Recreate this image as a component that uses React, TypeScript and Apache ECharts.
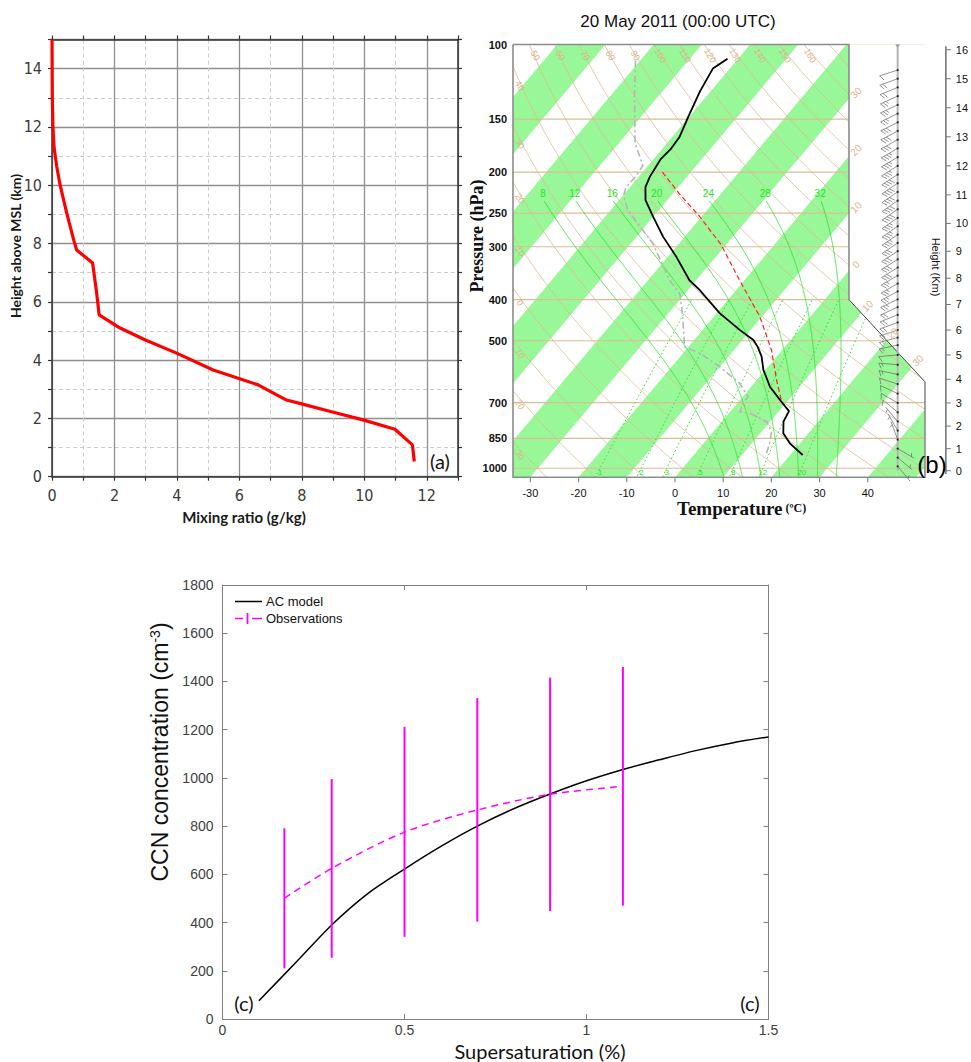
import React, { useEffect, useRef } from "react";
import * as echarts from "echarts";

// ================= Panel (a): mixing ratio profile =================
const mixingRatioGkg = [11.6, 11.54, 10.98, 9.96, 8.95, 7.99, 7.51, 6.6, 5.16, 3.99, 2.99, 2.18, 1.51, 1.43, 1.3, 0.79, 0.7, 0.47, 0.26, 0.15, 0.065, 0.03, 0.01, 0];
const heightAboveMslKm = [0.52, 1.09, 1.63, 1.95, 2.23, 2.5, 2.63, 3.15, 3.66, 4.24, 4.69, 5.1, 5.55, 6.3, 7.33, 7.78, 8.1, 9.05, 10.0, 10.65, 11.3, 12.0, 13.0, 15.0];

// ================= Panel (b): skew-T sounding =================
const soundingPressureHpa = [108, 114, 129, 148, 165, 176, 187, 205, 217, 233, 255, 284, 317, 360, 380, 431, 472, 498, 517, 545, 586, 642, 690, 733, 776, 827, 873, 930];
const soundingTempC = [-62.2, -63.5, -62.2, -60.2, -58.5, -58.2, -58.5, -57.7, -56.8, -54.5, -50.0, -44.5, -38.2, -31.4, -27.5, -19.3, -12.2, -7.7, -5.6, -3.1, -0.4, 3.9, 8.3, 12.1, 12.8, 14.8, 17.9, 22.6];
const dewPressureHpa = [109, 133, 171, 193, 203, 217, 227, 246, 269, 295, 328, 360, 388, 419, 472, 517, 535, 576, 630, 678, 703, 735, 742, 776, 820, 873, 922];
const dewPointC = [-81.0, -74.8, -66.6, -61.1, -60.7, -60.8, -59.9, -56.4, -51.0, -45.4, -40.1, -35.5, -31.0, -28.1, -23.9, -20.8, -16.5, -10.0, -3.0, 1.1, 1.2, 2.0, 4.4, 9.3, 12.1, 13.7, 14.8];
const parcelPressureHpa = [200, 225, 255, 297, 360, 439, 526, 619, 696];
const parcelTempC = [-55.9, -48.6, -40.3, -31.0, -21.0, -10.4, -2.2, 4.1, 8.9];

const pressureTickLabels = [100, 150, 200, 250, 300, 400, 500, 700, 850, 1000];
const temperatureTickLabels = [-30, -20, -10, 0, 10, 20, 30, 40];
const heightTickLabelsKm = [0, 1, 2, 3, 4, 5, 6, 7, 8, 9, 10, 11, 12, 13, 14, 15, 16];
const dryAdiabatThetaC = [-30, -20, -10, 0, 10, 20, 30, 40, 50, 60, 70, 80, 90, 100, 110, 120, 130, 140, 150, 160, 170, 180];
const dryAdiabatTopLabels = [50, 60, 70, 80, 90, 100, 110, 120, 130, 140, 150, 160];
const dryAdiabatLeftLabels = [40, 30, 20, 10, 0, -10, -20, -30];
const moistAdiabatThetaWC = [8, 12, 16, 20, 24, 28, 32];
const mixingRatioLinesGkg = [1, 2, 3, 5, 8, 12, 20];
const isothermBandStartC = [-120, -100, -80, -60, -40, -20, 0, 20, 40];
const isothermEdgeLabelsC = [-30, -20, -10, 0];
const isothermDiagLabelsC = [10, 20, 30];

const barbHeightKm = [15.3, 15.0, 14.7, 14.4, 14.1, 13.8, 13.5, 13.2, 12.9, 12.6, 12.3, 12.0, 11.7, 11.4, 11.1, 10.8, 10.5, 10.2, 9.9, 9.6, 9.3, 9.0, 8.7, 8.4, 8.1, 7.8, 7.5, 7.2, 6.9, 6.6, 6.3, 6.0, 5.7, 5.4, 5.0, 4.6, 4.2, 3.8, 3.4, 3.0, 2.6, 2.2, 1.8, 1.4, 1.0, 0.6, 0.2];
const barbSpeedKt = [10, 20, 20, 25, 25, 25, 30, 30, 30, 35, 35, 35, 40, 40, 40, 40, 40, 35, 35, 35, 30, 30, 30, 30, 25, 25, 25, 25, 20, 20, 20, 15, 15, 15, 10, 15, 15, 10, 10, 10, 10, 5, 5, 5, 5, 5, 5];
const barbDirDeg = [252, 250, 248, 246, 245, 244, 243, 242, 241, 240, 239, 238, 237, 236, 236, 235, 235, 235, 235, 236, 236, 237, 238, 238, 240, 240, 242, 244, 245, 248, 250, 252, 255, 258, 265, 275, 282, 288, 295, 300, 310, 320, 330, 340, 120, 130, 140];

// ================= Panel (c): CCN =================
const modelSupersat = [0.1, 0.2, 0.3, 0.4, 0.5, 0.6, 0.7, 0.8, 0.9, 1.0, 1.1, 1.2, 1.3, 1.4, 1.5];
const acModelCcn = [76, 232, 390, 521, 622, 716, 800, 872, 933, 988, 1035, 1075, 1113, 1145, 1170];
const obsSupersat = [0.17, 0.3, 0.5, 0.7, 0.9, 1.1];
const obsMeanCcn = [501, 625, 775, 867, 932, 965];
const obsLowCcn = [210, 254, 341, 404, 448, 470];
const obsHighCcn = [791, 995, 1212, 1331, 1416, 1460];

// ================= styling / helpers =================
const SANS = "'Liberation Sans', Arial, Helvetica, sans-serif";
const SERIF = "'Liberation Serif', 'Times New Roman', serif";
const NARROW = "'Liberation Sans Narrow', 'Arial Narrow', 'DejaVu Sans Condensed', sans-serif";
const CAL = "Lato, 'Open Sans', sans-serif";
const GREEN_BAND = "#98f898";
const TAN = "#dcbd95";
const TAN_TEXT = "#d8b48a";
const GREEN_LINE = "#2fe02f";
const GREEN_TEXT = "#22e622";

const K_SKEW = 32.14;
const P_BOT = 1050;
const P_TOP = 100;
const SK_XMIN = -33.6;
const SK_XMAX = 51.87;
const NOTCH_X = 36.1;
const DIAG_P = 625;
const STAFF_X = 46.2;
const HEIGHT_AXIS_X = 56.2;

const skewX = (t: number, p: number) => t + K_SKEW * Math.log(P_BOT / p);
const dryTempC = (thetaC: number, p: number) => (thetaC + 273.15) * Math.pow(p / 1000, 0.2857) - 273.15;
const esatHpa = (tc: number) => 6.112 * Math.exp((17.67 * tc) / (tc + 243.5));
function stdPressureHpa(zKm: number) {
  const z = zKm * 1000;
  if (z <= 11000) return 1013.25 * Math.pow(1 - 2.25577e-5 * z, 5.25588);
  return 226.32 * Math.exp(-(z - 11000) / 6341.6);
}
function moistDTdp(tK: number, p: number) {
  const es = esatHpa(tK - 273.15);
  const rs = (0.622 * es) / (p - es);
  const num = 287.04 * tK + 2.501e6 * rs;
  const den = 1005.7 + (2.501e6 * 2.501e6 * rs * 0.622) / (287.04 * tK * tK);
  return num / den / p;
}
function integrate(t0K: number, p0: number, p1: number, dp: number) {
  const out: number[][] = [];
  let T = t0K;
  let p = p0;
  out.push([T - 273.15, p]);
  const n = Math.round(Math.abs(p1 - p0) / Math.abs(dp));
  for (let i = 0; i < n; i++) {
    const k1 = moistDTdp(T, p);
    const k2 = moistDTdp(T + (dp / 2) * k1, p + dp / 2);
    const k3 = moistDTdp(T + (dp / 2) * k2, p + dp / 2);
    const k4 = moistDTdp(T + dp * k3, p + dp);
    T += (dp / 6) * (k1 + 2 * k2 + 2 * k3 + k4);
    p += dp;
    out.push([T - 273.15, p]);
  }
  return out;
}
function pseudoAdiabat(thetaW: number, pEnd: number) {
  const down = integrate(thetaW + 273.15, 1000, P_BOT, 2).reverse();
  const up = integrate(thetaW + 273.15, 1000, pEnd, -2);
  return down.concat(up.slice(1));
}
function mixingLineTempC(w: number, p: number) {
  const es = (w * p) / (622 + w);
  const a = Math.log(es / 6.112);
  return (243.5 * a) / (17.67 - a);
}
const logLevels: number[] = [];
for (let i = 0; i <= 120; i++) logLevels.push(P_TOP * Math.pow(P_BOT / P_TOP, i / 120));

const MOIST_TOP_P = 235;
const moistLines = moistAdiabatThetaWC.map((tw) => pseudoAdiabat(tw, MOIST_TOP_P).map(([t, p]) => [skewX(t, p), p]));
const dryLines = dryAdiabatThetaC.map((th) => logLevels.map((p) => [skewX(dryTempC(th, p), p), p]));
const mixLines = mixingRatioLinesGkg.map((w) => logLevels.filter((p) => p >= 399).map((p) => [skewX(mixingLineTempC(w, p), p), p]));

function crossP(theta: number, target: number) {
  let lo = P_TOP, hi = P_BOT;
  for (let k = 0; k < 60; k++) {
    const mid = Math.sqrt(lo * hi);
    const X = skewX(dryTempC(theta, mid), mid);
    if (X < target) lo = mid; else hi = mid;
  }
  return Math.sqrt(lo * hi);
}

type Spec = {
  kind: "text" | "tick" | "line";
  X: number; p: number; X2?: number; p2?: number;
  dx?: number; dy?: number; text?: string; color?: string; size?: number;
  weight?: string; family?: string; align?: string; rot?: number; width?: number;
};

function buildSkewSpecs(): Spec[] {
  const s: Spec[] = [];
  pressureTickLabels.forEach((p) =>
    s.push({ kind: "text", X: SK_XMIN, p, dx: -6, dy: 0, text: String(p), color: "#111", size: 11, weight: "bold", family: SANS, align: "right" })
  );
  temperatureTickLabels.forEach((t) => {
    s.push({ kind: "tick", X: t, p: P_BOT, dx: 0, dy: 5, color: "#888", width: 1.2 });
    s.push({ kind: "text", X: t, p: P_BOT, dx: 0, dy: 16, text: String(t), color: "#111", size: 11, family: SANS, align: "center" });
  });
  dryAdiabatTopLabels.forEach((th) =>
    s.push({ kind: "text", X: skewX(dryTempC(th, P_TOP), P_TOP), p: P_TOP, dx: 6, dy: 11, text: String(th), color: TAN_TEXT, size: 9, family: SANS, align: "center", rot: -Math.PI / 3 })
  );
  dryAdiabatLeftLabels.forEach((th) => {
    const tx = SK_XMIN + 1.0;
    s.push({ kind: "text", X: tx, p: crossP(th, tx), dx: 2, dy: 8, text: String(Math.abs(th)), color: TAN_TEXT, size: 9, family: SANS, align: "center", rot: -Math.PI / 3 });
  });
  isothermEdgeLabelsC.forEach((t) => {
    const p = P_BOT * Math.exp(-(NOTCH_X - t) / K_SKEW);
    s.push({ kind: "text", X: NOTCH_X, p, dx: 7, dy: -6, text: String(Math.abs(t)), color: TAN_TEXT, size: 10, family: SANS, align: "center", rot: Math.PI / 4 });
  });
  const l1 = Math.log(400), l2 = Math.log(DIAG_P), dX = SK_XMAX - NOTCH_X, dl = l2 - l1;
  isothermDiagLabelsC.forEach((t) => {
    const sParam = (t + K_SKEW * (Math.log(P_BOT) - l1) - NOTCH_X) / (dX + K_SKEW * dl);
    const X = NOTCH_X + dX * sParam;
    const p = Math.exp(l1 + dl * sParam);
    s.push({ kind: "text", X, p, dx: 6, dy: -7, text: String(Math.abs(t)), color: TAN_TEXT, size: 10, family: SANS, align: "center", rot: Math.PI / 4 });
  });
  moistAdiabatThetaWC.forEach((tw, i) => {
    const last = moistLines[i][moistLines[i].length - 1];
    s.push({ kind: "text", X: last[0], p: last[1], dx: -1, dy: -7, text: String(tw), color: GREEN_TEXT, size: 10, family: SANS, align: "center" });
  });
  mixingRatioLinesGkg.forEach((w) =>
    s.push({ kind: "text", X: skewX(mixingLineTempC(w, 1000), 1000), p: 1000, dx: 0, dy: 4, text: String(w), color: GREEN_TEXT, size: 8, family: SANS, align: "center" })
  );
  s.push({ kind: "line", X: HEIGHT_AXIS_X, p: stdPressureHpa(-0.15), X2: HEIGHT_AXIS_X, p2: stdPressureHpa(16.12), color: "#777", width: 1.6 });
  heightTickLabelsKm.forEach((h) => {
    s.push({ kind: "tick", X: HEIGHT_AXIS_X, p: stdPressureHpa(h), dx: 5, dy: 0, color: "#777", width: 1 });
    s.push({ kind: "text", X: HEIGHT_AXIS_X, p: stdPressureHpa(h), dx: 10, dy: 0, text: String(h), color: "#111", size: 11, family: SANS, align: "left" });
  });
  return s;
}
const skewSpecs = buildSkewSpecs();

function buildOption(): any {
  const bAx = { xAxisIndex: 3, yAxisIndex: 3 };
  const polySeries = (lines: number[][][], style: any, z: number) => ({
    type: "custom",
    ...bAx,
    coordinateSystem: "cartesian2d",
    clip: true,
    silent: true,
    z,
    data: lines.map((_, i) => [i, 500]),
    renderItem: (params: any, api: any) => ({
      type: "polyline",
      shape: { points: lines[params.dataIndex].map(([X, p]) => api.coord([X, p])) },
      style: { fill: null, ...style },
    }),
  });

  const series: any[] = [];

  // ---- panel (a)
  series.push({
    type: "line",
    xAxisIndex: 0,
    yAxisIndex: 0,
    data: mixingRatioGkg.map((m, i) => [m, heightAboveMslKm[i]]),
    showSymbol: false,
    lineStyle: { color: "#ff0000", width: 3.2 },
    z: 5,
    silent: true,
  });

  // ---- panel (b) bands
  series.push({
    type: "custom",
    ...bAx,
    coordinateSystem: "cartesian2d",
    clip: true,
    silent: true,
    z: 1,
    data: isothermBandStartC.map((t) => [t, 500]),
    renderItem: (params: any, api: any) => {
      const t = api.value(0);
      const pts = [
        [t, P_BOT],
        [t + 10, P_BOT],
        [t + 10, P_TOP],
        [t, P_TOP],
      ].map(([tt, p]) => api.coord([skewX(tt, p), p]));
      return { type: "polygon", shape: { points: pts }, style: { fill: GREEN_BAND } };
    },
  });
  series.push(polySeries(pressureTickLabels.map((p) => [[SK_XMIN, p], [SK_XMAX, p]]), { stroke: TAN, lineWidth: 1.1 }, 2));
  series.push(polySeries(dryLines, { stroke: TAN, lineWidth: 0.8 }, 2));
  series.push(polySeries(moistLines, { stroke: GREEN_LINE, lineWidth: 0.8 }, 3));
  series.push(polySeries(mixLines, { stroke: GREEN_LINE, lineWidth: 1, lineDash: [1.5, 2.5] }, 3));
  series.push({
    type: "line", ...bAx, showSymbol: false, silent: true, z: 4,
    data: dewPointC.map((t, i) => [skewX(t, dewPressureHpa[i]), dewPressureHpa[i]]),
    lineStyle: { color: "#b5b5b5", width: 1.6, type: [7, 3, 2, 3] },
  });
  series.push({
    type: "line", ...bAx, showSymbol: false, silent: true, z: 4,
    data: parcelTempC.map((t, i) => [skewX(t, parcelPressureHpa[i]), parcelPressureHpa[i]]),
    lineStyle: { color: "#ff2020", width: 1.2, type: [5, 3] },
  });
  series.push({
    type: "line", ...bAx, showSymbol: false, silent: true, z: 4,
    data: soundingTempC.map((t, i) => [skewX(t, soundingPressureHpa[i]), soundingPressureHpa[i]]),
    lineStyle: { color: "#000", width: 1.8 },
  });
  series.push({
    type: "custom", ...bAx, coordinateSystem: "cartesian2d", clip: false, silent: true, z: 5,
    data: [[0, 500]],
    renderItem: (params: any, api: any) => {
      const c = (X: number, p: number) => api.coord([X, p]);
      const mask = [c(NOTCH_X, P_TOP), c(SK_XMAX + 0.6, P_TOP), c(SK_XMAX + 0.6, DIAG_P), c(SK_XMAX, DIAG_P), c(NOTCH_X, 400)];
      return {
        type: "group",
        children: [
          { type: "polygon", shape: { points: mask }, style: { fill: "#fff" } },
          { type: "polyline", shape: { points: [c(SK_XMIN, P_TOP), c(NOTCH_X, P_TOP), c(NOTCH_X, 400)] }, style: { stroke: "#8c8c8c", lineWidth: 1.6, fill: null } },
          { type: "polyline", shape: { points: [c(NOTCH_X, 400), c(SK_XMAX, DIAG_P)] }, style: { stroke: "#333", lineWidth: 0.9, fill: null } },
          { type: "polyline", shape: { points: [c(SK_XMAX, DIAG_P), c(SK_XMAX, P_BOT), c(SK_XMIN, P_BOT), c(SK_XMIN, P_TOP)] }, style: { stroke: "#8c8c8c", lineWidth: 1.6, fill: null } },
        ],
      };
    },
  });
  series.push({
    type: "custom", ...bAx, coordinateSystem: "cartesian2d", clip: false, silent: true, z: 6,
    data: [[0, 500]],
    renderItem: (params: any, api: any) => {
      const a = api.coord([STAFF_X, P_TOP]);
      const b = api.coord([STAFF_X, stdPressureHpa(0)]);
      return {
        type: "group",
        children: [
          { type: "line", shape: { x1: a[0], y1: a[1], x2: b[0], y2: b[1] }, style: { stroke: "#b3b3b3", lineWidth: 2 } },
          { type: "polygon", shape: { points: [[a[0] - 2.5, a[1]], [a[0] + 2.5, a[1]], [a[0], a[1] + 3]] }, style: { fill: "#999" } },
        ],
      };
    },
  });
  series.push({
    type: "custom", ...bAx, coordinateSystem: "cartesian2d", clip: false, silent: true, z: 7,
    data: barbHeightKm.map((h, i) => [i, stdPressureHpa(h)]),
    renderItem: (params: any, api: any) => {
      const i = params.dataIndex;
      const p = stdPressureHpa(barbHeightKm[i]);
      const [sx, sy] = api.coord([STAFF_X, p]);
      const dir = (barbDirDeg[i] * Math.PI) / 180;
      const ux = Math.sin(dir), uy = -Math.cos(dir);
      const L = 19;
      const tx = sx + ux * L, ty = sy + uy * L;
      const a = (-120 * Math.PI) / 180;
      const fx = ux * Math.cos(a) - uy * Math.sin(a);
      const fy = ux * Math.sin(a) + uy * Math.cos(a);
      const st = { stroke: "#666", lineWidth: 0.7 };
      const ch: any[] = [{ type: "line", shape: { x1: sx, y1: sy, x2: tx, y2: ty }, style: st }];
      let rem = Math.round(barbSpeedKt[i] / 5) * 5;
      let pos = 0;
      while (rem >= 10) {
        const bx = tx - ux * pos, by = ty - uy * pos;
        ch.push({ type: "line", shape: { x1: bx, y1: by, x2: bx + fx * 6, y2: by + fy * 6 }, style: st });
        rem -= 10;
        pos += 3;
      }
      if (rem >= 5) {
        if (pos === 0) pos = 3;
        const bx = tx - ux * pos, by = ty - uy * pos;
        ch.push({ type: "line", shape: { x1: bx, y1: by, x2: bx + fx * 3.5, y2: by + fy * 3.5 }, style: st });
      }
      ch.push({ type: "circle", shape: { cx: sx, cy: sy, r: 1 }, style: { fill: "#222" } });
      return { type: "group", children: ch };
    },
  });
  series.push({
    type: "custom", ...bAx, coordinateSystem: "cartesian2d", clip: false, silent: true, z: 8,
    data: skewSpecs.map((_, i) => [i, 500]),
    renderItem: (params: any, api: any) => {
      const s = skewSpecs[params.dataIndex];
      const [x, y] = api.coord([s.X, s.p]);
      if (s.kind === "tick") {
        return { type: "line", shape: { x1: x, y1: y, x2: x + (s.dx || 0), y2: y + (s.dy || 0) }, style: { stroke: s.color, lineWidth: s.width || 1 } };
      }
      if (s.kind === "line") {
        const [x2, y2] = api.coord([s.X2, s.p2]);
        return { type: "line", shape: { x1: x, y1: y, x2, y2 }, style: { stroke: s.color, lineWidth: s.width || 1 } };
      }
      return {
        type: "text",
        x: x + (s.dx || 0),
        y: y + (s.dy || 0),
        rotation: s.rot || 0,
        style: {
          text: s.text,
          fill: s.color,
          fontSize: s.size,
          fontFamily: s.family,
          fontWeight: s.weight || "normal",
          align: s.align,
          verticalAlign: "middle",
        },
      };
    },
  });

  // ---- panel (c)
  series.push({
    type: "line", xAxisIndex: 4, yAxisIndex: 4, showSymbol: false, silent: true, smooth: 0.3, z: 3,
    data: modelSupersat.map((x, i) => [x, acModelCcn[i]]),
    lineStyle: { color: "#000", width: 1.5 },
  });
  series.push({
    type: "line", xAxisIndex: 4, yAxisIndex: 4, showSymbol: false, silent: true, smooth: 0.3, z: 4,
    data: obsSupersat.map((x, i) => [x, obsMeanCcn[i]]),
    lineStyle: { color: "#ff00ff", width: 1.5, type: [7, 5] },
  });
  series.push({
    type: "custom", xAxisIndex: 4, yAxisIndex: 4, coordinateSystem: "cartesian2d", silent: true, z: 5,
    data: obsSupersat.map((x, i) => [x, obsLowCcn[i], obsHighCcn[i]]),
    encode: { x: 0, y: [1, 2] },
    renderItem: (params: any, api: any) => {
      const a = api.coord([api.value(0), api.value(1)]);
      const b = api.coord([api.value(0), api.value(2)]);
      return { type: "line", shape: { x1: a[0], y1: a[1], x2: b[0], y2: b[1] }, style: { stroke: "#ff00ff", lineWidth: 2 } };
    },
  });

  const aLine = { onZero: false, lineStyle: { color: "#333", width: 1.5 } };
  const aTick = { show: true, length: 4, lineStyle: { color: "#333", width: 1.2 } };
  const aLabel = { color: "#3a3a3a", fontSize: 16, fontFamily: NARROW };
  const cLine = { onZero: false, lineStyle: { color: "#808080", width: 1 } };
  const cTick = { show: true, inside: true, length: 5, lineStyle: { color: "#808080" } };
  const cLabel = { color: "#404040", fontSize: 14, fontFamily: SANS, formatter: (v: number) => String(v) };

  const graphic: any[] = [
    { type: "text", x: 15, y: 246, rotation: Math.PI / 2, style: { text: "Height above MSL (km)", fill: "#1a1a1a", fontSize: 14, fontWeight: "bold", fontFamily: CAL, align: "center", verticalAlign: "middle" } },
    { type: "text", x: 244, y: 517, style: { text: "Mixing ratio (g/kg)", fill: "#1a1a1a", fontSize: 15, fontWeight: "bold", fontFamily: CAL, align: "center", verticalAlign: "middle" } },
    { type: "text", x: 440, y: 461, style: { text: "(a)", fill: "#111", fontSize: 20, fontFamily: CAL, align: "center", verticalAlign: "middle" } },
    { type: "text", x: 678, y: 21, style: { text: "20 May 2011 (00:00 UTC)", fill: "#111", fontSize: 17, fontFamily: SANS, align: "center", verticalAlign: "middle" } },
    { type: "text", x: 477, y: 236, rotation: Math.PI / 2, style: { text: "Pressure (hPa)", fill: "#111", fontSize: 18, fontWeight: "bold", fontFamily: SERIF, align: "center", verticalAlign: "middle" } },
    {
      type: "text", x: 677, y: 508,
      style: {
        text: "{a|Temperature}{b| (ºC)}", align: "left", verticalAlign: "middle",
        rich: { a: { fontSize: 19, fontWeight: "bold", fontFamily: SERIF, fill: "#111" }, b: { fontSize: 12, fontWeight: "bold", fontFamily: SERIF, fill: "#111" } },
      },
    },
    { type: "text", x: 936, y: 267, rotation: -Math.PI / 2, style: { text: "Height (Km)", fill: "#111", fontSize: 11, fontFamily: SANS, align: "center", verticalAlign: "middle" } },
    { type: "text", x: 932, y: 464, z: 20, style: { text: "(b)", fill: "#000", fontSize: 24, fontFamily: SANS, align: "center", verticalAlign: "middle" } },
    {
      type: "text", x: 160, y: 752, rotation: Math.PI / 2,
      style: {
        text: "{a|CCN concentration (cm}{s|-3}{a|)}", align: "center", verticalAlign: "middle",
        rich: { a: { fontSize: 23, fontFamily: SANS, fill: "#111" }, s: { fontSize: 14, fontFamily: SANS, fill: "#111", verticalAlign: "top", padding: [0, 0, 10, 0] } },
      },
    },
    { type: "text", x: 540, y: 1051, style: { text: "Supersaturation (%)", fill: "#111", fontSize: 20, fontFamily: CAL, align: "center", verticalAlign: "middle" } },
    { type: "text", x: 244, y: 1003, style: { text: "(c)", fill: "#111", fontSize: 20, fontFamily: CAL, align: "center", verticalAlign: "middle" } },
    { type: "text", x: 750, y: 1003, style: { text: "(c)", fill: "#111", fontSize: 20, fontFamily: CAL, align: "center", verticalAlign: "middle" } },
    { type: "line", shape: { x1: 235, y1: 601.5, x2: 262, y2: 601.5 }, style: { stroke: "#000", lineWidth: 1.5 } },
    { type: "text", x: 266, y: 601.5, style: { text: "AC model", fill: "#111", fontSize: 13, fontFamily: SANS, align: "left", verticalAlign: "middle" } },
    { type: "line", shape: { x1: 235, y1: 618.5, x2: 243, y2: 618.5 }, style: { stroke: "#ff00ff", lineWidth: 1.5 } },
    { type: "line", shape: { x1: 252, y1: 618.5, x2: 262, y2: 618.5 }, style: { stroke: "#ff00ff", lineWidth: 1.5 } },
    { type: "line", shape: { x1: 247.5, y1: 613, x2: 247.5, y2: 624 }, style: { stroke: "#ff00ff", lineWidth: 1.8 } },
    { type: "text", x: 266, y: 618.5, style: { text: "Observations", fill: "#111", fontSize: 13, fontFamily: SANS, align: "left", verticalAlign: "middle" } },
  ];

  return {
    animation: false,
    backgroundColor: "#fff",
    grid: [
      { left: 52, top: 39.5, width: 406, height: 437.2 },
      { left: 513, top: 44.5, width: 412, height: 432.8 },
      { left: 222.5, top: 585, width: 546, height: 434 },
    ],
    xAxis: [
      { gridIndex: 0, type: "value", min: 0, max: 13, interval: 1, position: "bottom", axisLine: aLine, axisTick: aTick,
        axisLabel: { ...aLabel, margin: 11, formatter: (v: number) => (v % 2 === 0 ? String(v) : "") },
        splitLine: { show: true, lineStyle: { color: "#cdcdcd", width: 1, type: [4, 3] } } },
      { gridIndex: 0, type: "value", min: 0, max: 13, interval: 1, position: "top", axisLine: aLine, axisTick: aTick, axisLabel: { show: false }, splitLine: { show: false } },
      { gridIndex: 0, type: "value", min: 0, max: 13, interval: 2, position: "bottom", axisLine: { show: false, onZero: false }, axisTick: { show: false }, axisLabel: { show: false },
        splitLine: { show: true, lineStyle: { color: "#8f8f8f", width: 1.3 } } },
      { gridIndex: 1, type: "value", min: SK_XMIN, max: SK_XMAX, show: false, splitLine: { show: false } },
      { gridIndex: 2, type: "value", min: 0, max: 1.5, interval: 0.5, position: "bottom", axisLine: cLine, axisTick: cTick, axisLabel: { ...cLabel, margin: 4 }, splitLine: { show: false } },
      { gridIndex: 2, type: "value", min: 0, max: 1.5, interval: 0.5, position: "top", axisLine: cLine, axisTick: cTick, axisLabel: { show: false }, splitLine: { show: false } },
    ],
    yAxis: [
      { gridIndex: 0, type: "value", min: 0, max: 15, interval: 1, position: "left", axisLine: aLine, axisTick: aTick,
        axisLabel: { ...aLabel, margin: 10, formatter: (v: number) => (v % 2 === 0 ? String(v) : "") },
        splitLine: { show: true, lineStyle: { color: "#cdcdcd", width: 1, type: [4, 3] } } },
      { gridIndex: 0, type: "value", min: 0, max: 15, interval: 1, position: "right", axisLine: aLine, axisTick: aTick, axisLabel: { show: false }, splitLine: { show: false } },
      { gridIndex: 0, type: "value", min: 0, max: 15, interval: 2, position: "left", axisLine: { show: false, onZero: false }, axisTick: { show: false }, axisLabel: { show: false },
        splitLine: { show: true, lineStyle: { color: "#8f8f8f", width: 1.3 } } },
      { gridIndex: 1, type: "log", logBase: 10, min: P_TOP, max: P_BOT, inverse: true, show: false, splitLine: { show: false } },
      { gridIndex: 2, type: "value", min: 0, max: 1800, interval: 200, position: "left", axisLine: cLine, axisTick: cTick, axisLabel: { ...cLabel, margin: 9 }, splitLine: { show: false } },
      { gridIndex: 2, type: "value", min: 0, max: 1800, interval: 200, position: "right", axisLine: cLine, axisTick: cTick, axisLabel: { show: false }, splitLine: { show: false } },
    ],
    graphic,
    series,
  };
}

export default function App() {
  const ref = useRef<HTMLDivElement>(null);
  useEffect(() => {
    if (!ref.current) return;
    const chart = echarts.init(ref.current, null, { renderer: "svg" });
    chart.setOption(buildOption());
    return () => chart.dispose();
  }, []);
  return (
    <div
      ref={ref}
      style={{ position: "absolute", left: 0, top: 0, width: 971, height: 1062, background: "#fff" }}
    />
  );
}
